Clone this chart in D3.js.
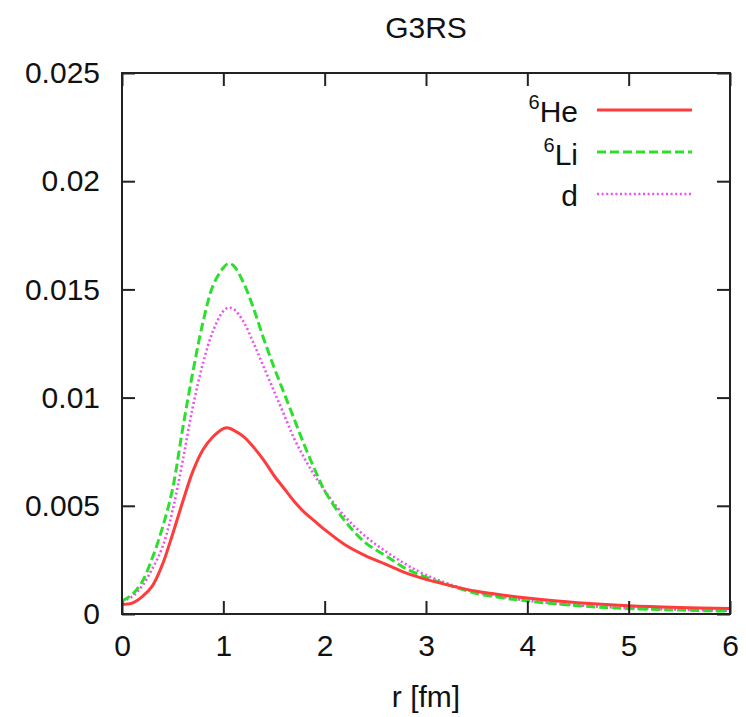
<!DOCTYPE html>
<html>
<head>
<meta charset="utf-8">
<script src="https://cdn.jsdelivr.net/npm/d3@7"></script>
<style>
  body { margin: 0; background: #fff; }
  svg text { font-family: "Liberation Sans", Arial, Helvetica, sans-serif; fill: #111; }
</style>
</head>
<body>
<script>
// radius samples [fm] shared by all curves
var rValues = [0, 0.1, 0.2, 0.3, 0.4, 0.5, 0.6, 0.7, 0.8, 0.9, 1.0, 1.05, 1.1, 1.2, 1.3, 1.4, 1.5, 1.6, 1.7, 1.8, 1.9, 2.0,
               2.2, 2.4, 2.6, 2.8, 3.0, 3.25, 3.5, 3.75, 4.0, 4.5, 5.0, 5.5, 6.0];
// 6He (solid red)
var heValues = [0.00045, 0.0005, 0.0008, 0.0013, 0.0023, 0.0037, 0.0052, 0.0066, 0.0076, 0.0082, 0.00857, 0.0086, 0.0085,
                0.0082, 0.0077, 0.0071, 0.0064, 0.0058, 0.0052, 0.0047, 0.0043, 0.0039, 0.0032, 0.0027, 0.0023, 0.0019,
                0.0016, 0.0013, 0.00105, 0.00088, 0.00074, 0.00052, 0.00038, 0.0003, 0.00025];
// 6Li (dashed green)
var liValues = [0.0006, 0.0009, 0.0015, 0.0026, 0.0040, 0.0058, 0.0086, 0.0112, 0.0135, 0.0152, 0.0160, 0.0162, 0.0161,
                0.0153, 0.0141, 0.0127, 0.0114, 0.0102, 0.0090, 0.0078, 0.0067, 0.0057, 0.0043, 0.0033, 0.0027, 0.0021,
                0.0017, 0.0013, 0.00095, 0.00075, 0.0006, 0.00038, 0.00025, 0.00018, 0.00013];
// d (dotted magenta)
var dValues = [0.0006, 0.0008, 0.0013, 0.0021, 0.0031, 0.0048, 0.0071, 0.0096, 0.0116, 0.0131, 0.0140, 0.01415, 0.0141,
               0.0135, 0.0125, 0.0114, 0.0103, 0.0092, 0.0081, 0.0072, 0.0064, 0.0057, 0.0045, 0.0036, 0.0029, 0.0023,
               0.0018, 0.00135, 0.001, 0.0008, 0.00062, 0.0004, 0.00027, 0.0002, 0.00015];

var xTicks = [0, 1, 2, 3, 4, 5, 6];
var xTickLabels = ["0", "1", "2", "3", "4", "5", "6"];
var yTicks = [0, 0.005, 0.01, 0.015, 0.02, 0.025];
var yTickLabels = ["0", "0.005", "0.01", "0.015", "0.02", "0.025"];

var series = [
  {sup: "6", name: "He", values: heValues, color: "#ff3b3b", width: 3, dash: null},
  {sup: "6", name: "Li", values: liValues, color: "#2ddf2d", width: 3, dash: "9,4"},
  {sup: "",  name: "d",  values: dValues,  color: "#ef4fef", width: 2.6, dash: "2,2.6"}
];

var W = 746, H = 717;
var plot = {left: 122, right: 730, top: 73, bottom: 614};
var tickLen = 13;
var noLabel = function() { return ""; };

var svg = d3.select("body").append("svg")
    .attr("width", W)
    .attr("height", H);

var x = d3.scaleLinear().domain([0, 6]).range([plot.left, plot.right]);
var y = d3.scaleLinear().domain([0, 0.025]).range([plot.bottom, plot.top]);

// clip so the curves stay inside the frame
svg.append("clipPath").attr("id", "plotclip")
  .append("rect").attr("x", plot.left).attr("y", plot.top)
  .attr("width", plot.right - plot.left).attr("height", plot.bottom - plot.top);

var line = d3.line()
    .x(function(d) { return x(d[0]); })
    .y(function(d) { return y(d[1]); })
    .curve(d3.curveCatmullRom.alpha(0.5));

var curves = svg.append("g").attr("clip-path", "url(#plotclip)");
series.slice().reverse().forEach(function(s) {
  curves.append("path")
      .datum(rValues.map(function(r, i) { return [r, s.values[i]]; }))
      .attr("fill", "none")
      .attr("stroke", s.color)
      .attr("stroke-width", s.width)
      .attr("stroke-dasharray", s.dash)
      .attr("d", line);
});

// axes with inward ticks, mirrored on top/right
var axisColor = "#222";
var bottomAxis = d3.axisBottom(x).tickValues(xTicks).tickSizeInner(-tickLen).tickSizeOuter(0).tickPadding(21)
    .tickFormat(function(d, i) { return xTickLabels[i]; });
var topAxis = d3.axisTop(x).tickValues(xTicks).tickSizeInner(-tickLen).tickSizeOuter(0).tickFormat(noLabel);
var leftAxis = d3.axisLeft(y).tickValues(yTicks).tickSizeInner(-tickLen).tickSizeOuter(0).tickPadding(22)
    .tickFormat(function(d, i) { return yTickLabels[i]; });
var rightAxis = d3.axisRight(y).tickValues(yTicks).tickSizeInner(-tickLen).tickSizeOuter(0).tickFormat(noLabel);

function styleAxis(g) {
  g.select(".domain").remove();
  g.selectAll(".tick line").attr("stroke", axisColor).attr("stroke-width", 2);
  g.selectAll(".tick text").attr("fill", "#111").style("font-size", "30px")
    .style("font-family", "'Liberation Sans', Arial, sans-serif");
}

svg.append("g").attr("transform", "translate(0," + plot.bottom + ")").call(bottomAxis).call(styleAxis);
svg.append("g").attr("transform", "translate(0," + plot.top + ")").call(topAxis).call(styleAxis);
svg.append("g").attr("transform", "translate(" + plot.left + ",0)").call(leftAxis).call(styleAxis);
svg.append("g").attr("transform", "translate(" + plot.right + ",0)").call(rightAxis).call(styleAxis);

// frame
svg.append("rect")
    .attr("x", plot.left).attr("y", plot.top)
    .attr("width", plot.right - plot.left).attr("height", plot.bottom - plot.top)
    .attr("fill", "none")
    .attr("stroke", axisColor)
    .attr("stroke-width", 2);

// title and axis label
svg.append("text")
    .attr("x", (plot.left + plot.right) / 2).attr("y", 38)
    .attr("text-anchor", "middle")
    .style("font-size", "30px")
    .text("G3RS");

svg.append("text")
    .attr("x", (plot.left + plot.right) / 2).attr("y", 707)
    .attr("text-anchor", "middle")
    .style("font-size", "30px")
    .text("r [fm]");

// legend
var legendRows = [122, 165, 206];
var legendLineY = [110, 152, 194];
series.forEach(function(s, i) {
  var t = svg.append("text")
      .attr("x", 578).attr("y", legendRows[i])
      .attr("text-anchor", "end")
      .style("font-size", "30px");
  if (s.sup) {
    t.append("tspan").attr("dy", -13).style("font-size", "20px").text(s.sup);
    t.append("tspan").attr("dy", 13).text(s.name);
  } else {
    t.text(s.name);
  }
  svg.append("line")
      .attr("x1", 597).attr("x2", 692)
      .attr("y1", legendLineY[i]).attr("y2", legendLineY[i])
      .attr("stroke", s.color)
      .attr("stroke-width", s.width)
      .attr("stroke-dasharray", s.dash);
});
</script>
</body>
</html>
